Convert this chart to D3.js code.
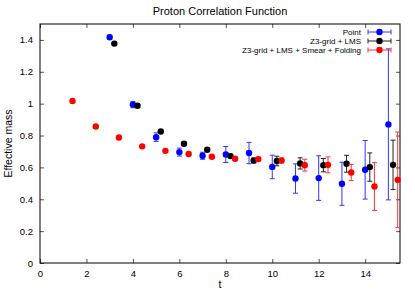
<!DOCTYPE html>
<html>
<head>
<meta charset="utf-8">
<script src="https://cdn.jsdelivr.net/npm/d3@7"></script>
<style>
  body { margin: 0; background: #fff; }
  text { font-family: "Liberation Sans", Arial, sans-serif; }
</style>
</head>
<body>
<script>
// data: t, effective mass, error
var pointT   = [3, 4, 5, 6, 7, 8, 9, 10, 11, 12, 13, 14, 15];
var pointM   = [1.417, 0.994, 0.79, 0.696, 0.673, 0.681, 0.69, 0.603, 0.53, 0.533, 0.497, 0.585, 0.87];
var pointE   = [0.012, 0.02, 0.027, 0.025, 0.022, 0.05, 0.067, 0.074, 0.092, 0.14, 0.135, 0.184, 0.474];

var lmsT     = [3.2, 4.2, 5.2, 6.2, 7.2, 8.2, 9.2, 10.2, 11.2, 12.2, 13.2, 14.2, 15.2];
var lmsM     = [1.377, 0.987, 0.825, 0.748, 0.711, 0.671, 0.643, 0.64, 0.625, 0.614, 0.623, 0.602, 0.616];
var lmsE     = [0.005, 0.006, 0.008, 0.01, 0.01, 0.012, 0.015, 0.03, 0.035, 0.042, 0.053, 0.089, 0.155];

var smearT   = [1.4, 2.4, 3.4, 4.4, 5.4, 6.4, 7.4, 8.4, 9.4, 10.4, 11.4, 12.4, 13.4, 14.4, 15.4];
var smearM   = [1.017, 0.857, 0.788, 0.732, 0.704, 0.684, 0.667, 0.654, 0.652, 0.643, 0.614, 0.616, 0.568, 0.48, 0.522];
var smearE   = [0.003, 0.003, 0.004, 0.004, 0.005, 0.006, 0.008, 0.01, 0.012, 0.015, 0.037, 0.05, 0.051, 0.15, 0.3];

var seriesNames = ["Point", "Z3-grid + LMS", "Z3-grid + LMS + Smear + Folding"];
var xTicks = [0, 2, 4, 6, 8, 10, 12, 14];
var yTicks = [0, 0.2, 0.4, 0.6, 0.8, 1, 1.2, 1.4];

var W = 415, H = 291;
var m = {left: 40, right: 15, top: 24, bottom: 28};

var svg = d3.select("body").append("svg").attr("width", W).attr("height", H);

var x = d3.scaleLinear().domain([0, 15.5]).range([m.left, W - m.right]);
var y = d3.scaleLinear().domain([0, 1.5]).range([H - m.bottom, m.top]);

svg.append("text")
    .attr("x", 220).attr("y", 15)
    .attr("text-anchor", "middle")
    .attr("font-size", "11px")
    .text("Proton Correlation Function");

// ticks on all four sides, pointing inward
var tl = 4;
svg.append("g").attr("transform", "translate(0," + (H - m.bottom) + ")")
    .call(d3.axisBottom(x).tickValues(xTicks).tickSize(-tl).tickPadding(7).tickFormat(d3.format("d")));
svg.append("g").attr("transform", "translate(0," + m.top + ")")
    .call(d3.axisTop(x).tickValues(xTicks).tickSize(-tl).tickFormat(""));
svg.append("g").attr("transform", "translate(" + m.left + ",0)")
    .call(d3.axisLeft(y).tickValues(yTicks).tickSize(-tl).tickPadding(7).tickFormat(function(d){ return d3.format("")(+d.toFixed(1)); }));
svg.append("g").attr("transform", "translate(" + (W - m.right) + ",0)")
    .call(d3.axisRight(y).tickValues(yTicks).tickSize(-tl).tickFormat(""));

svg.selectAll(".domain").attr("stroke", "none");
svg.selectAll(".tick line").attr("stroke", "#555");
svg.selectAll(".tick text").attr("font-size", "9.5px").attr("fill", "#000")
    .attr("font-family", "Liberation Sans, Arial, sans-serif");

svg.append("rect")
    .attr("x", m.left).attr("y", m.top)
    .attr("width", W - m.left - m.right).attr("height", H - m.top - m.bottom)
    .attr("fill", "none").attr("stroke", "#000").attr("stroke-width", 1);

svg.append("text")
    .attr("transform", "translate(12," + ((m.top + H - m.bottom) / 2) + ") rotate(-90)")
    .attr("text-anchor", "middle")
    .attr("font-size", "10.5px")
    .text("Effective mass");

svg.append("text")
    .attr("x", (m.left + W - m.right) / 2).attr("y", 288)
    .attr("text-anchor", "middle")
    .attr("font-size", "10.5px")
    .text("t");

var series = [
    {name: seriesNames[0], color: "#0000ff", bar: "#3333ff", t: pointT, v: pointM, e: pointE},
    {name: seriesNames[1], color: "#000000", bar: "#222222", t: lmsT, v: lmsM, e: lmsE},
    {name: seriesNames[2], color: "#ff0000", bar: "#ff3333", t: smearT, v: smearM, e: smearE}
];

var cap = 2.5;
series.forEach(function(s) {
    var pts = s.t.map(function(t, i){ return {t: t, v: s.v[i], e: s.e[i]}; });
    var g = svg.append("g");
    var eb = g.selectAll("g.err").data(pts).enter().append("g")
        .attr("stroke", s.bar).attr("stroke-width", 1);
    eb.append("line")
        .attr("x1", function(d){ return x(d.t); }).attr("x2", function(d){ return x(d.t); })
        .attr("y1", function(d){ return y(d.v - d.e); }).attr("y2", function(d){ return y(d.v + d.e); });
    eb.append("line")
        .attr("x1", function(d){ return x(d.t) - cap; }).attr("x2", function(d){ return x(d.t) + cap; })
        .attr("y1", function(d){ return y(d.v - d.e); }).attr("y2", function(d){ return y(d.v - d.e); });
    eb.append("line")
        .attr("x1", function(d){ return x(d.t) - cap; }).attr("x2", function(d){ return x(d.t) + cap; })
        .attr("y1", function(d){ return y(d.v + d.e); }).attr("y2", function(d){ return y(d.v + d.e); });
    g.selectAll("circle").data(pts).enter().append("circle")
        .attr("cx", function(d){ return x(d.t); })
        .attr("cy", function(d){ return y(d.v); })
        .attr("r", 3.2)
        .attr("fill", s.color);
});

// legend
var leg = svg.append("g");
series.forEach(function(s, i) {
    var ly = 32 + i * 9;
    leg.append("text")
        .attr("x", 361).attr("y", ly + 3)
        .attr("text-anchor", "end")
        .attr("font-size", "8px")
        .text(s.name);
    leg.append("line").attr("x1", 368).attr("x2", 391).attr("y1", ly).attr("y2", ly)
        .attr("stroke", s.bar).attr("stroke-width", 1);
    [368, 391].forEach(function(cx) {
        leg.append("line").attr("x1", cx).attr("x2", cx).attr("y1", ly - cap).attr("y2", ly + cap)
            .attr("stroke", s.bar);
    });
    leg.append("circle").attr("cx", 379.5).attr("cy", ly).attr("r", 3.2).attr("fill", s.color);
});
</script>
</body>
</html>
